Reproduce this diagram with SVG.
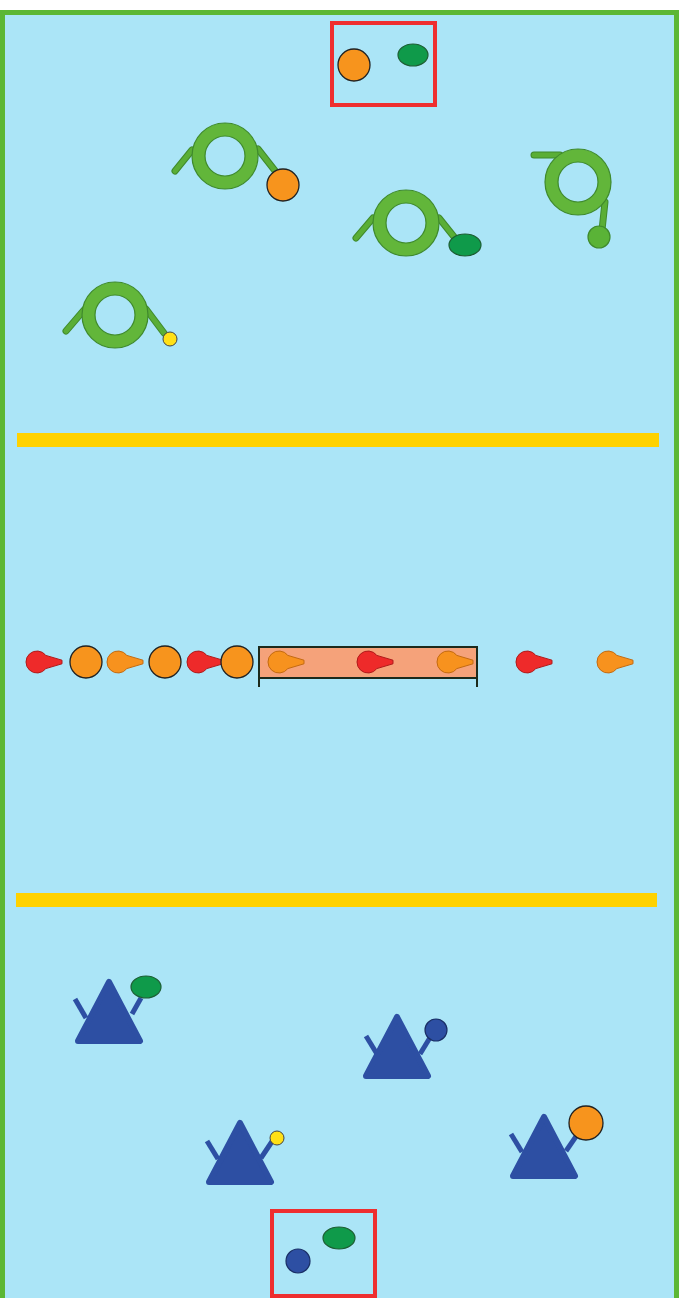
<svg xmlns="http://www.w3.org/2000/svg" xmlns:xlink="http://www.w3.org/1999/xlink" width="683" height="1298" viewBox="0 0 683 1298">
<style>
.field{fill:#abe5f7;stroke:#5cb735;stroke-width:5}
.line{fill:#ffd200}
.zone{fill:none;stroke:#ee2e2f;stroke-width:4}
.ring{fill:#62b63a;stroke:#3f8a2c;stroke-width:1.2;fill-rule:evenodd}
.gstick{stroke:#5aae36;stroke-width:5;stroke-linecap:round;fill:none}
.gstick-o{stroke:#3f8a2c;stroke-width:7;stroke-linecap:round;fill:none}
.tri{fill:#2d4fa3;stroke:#2d4fa3;stroke-width:6;stroke-linejoin:round}
.bstick{stroke:#2d4fa3;stroke-width:5;fill:none}
.orange{fill:#f7941d;stroke:#222;stroke-width:1.3}
.gball{fill:#0f9a4a;stroke:#1d5e33;stroke-width:1.2}
.gball2{fill:#5ab337;stroke:#3f8a2c;stroke-width:1.2}
.yball{fill:#ffe016;stroke:#444;stroke-width:1}
.bball{fill:#2d4fa3;stroke:#1a2f66;stroke-width:1.2}
.pinR{fill:#ee2a2a;stroke:#b01a1a;stroke-width:1}
.pinO{fill:#f7921e;stroke:#c46a10;stroke-width:1}
.box{fill:#f5a27a;stroke:#1c2a1c;stroke-width:2}
</style>
<defs>
<path id="ringShape" d="M0,-33 A33,33 0 1 1 0,33 A33,33 0 1 1 0,-33 Z M0,-20 A20,20 0 1 0 0,20 A20,20 0 1 0 0,-20 Z"/>
<path id="pinShape" d="M8.8,-6.6 L25,-1.8 L25,1.8 L8.8,6.6 A11,11 0 1 1 8.8,-6.6 Z"/>
<path id="triShape" d="M0,0 L31,59 L-31,59 Z"/>
</defs>

<rect class="field" x="2.5" y="12.5" width="674" height="1295"/>
<rect class="line" x="17" y="433" width="642" height="14"/>
<rect class="line" x="16" y="893" width="641" height="14"/>

<g id="zone-top">
<rect class="zone" x="332" y="23" width="103" height="82"/>
<circle class="orange" cx="354" cy="65" r="16"/>
<ellipse class="gball" cx="413" cy="55" rx="15" ry="11"/>
</g>

<g id="zone-bottom">
<rect class="zone" x="272" y="1211" width="103" height="85"/>
<circle class="bball" cx="298" cy="1261" r="12"/>
<ellipse class="gball" cx="339" cy="1238" rx="16" ry="11"/>
</g>

<g id="ring-1">
<line class="gstick-o" x1="192" y1="150" x2="175" y2="171"/>
<line class="gstick" x1="192" y1="150" x2="175" y2="171"/>
<line class="gstick-o" x1="258" y1="149" x2="276" y2="172"/>
<line class="gstick" x1="258" y1="149" x2="276" y2="172"/>
<use href="#ringShape" class="ring" x="225" y="156"/>
<circle class="orange" cx="283" cy="185" r="16"/>
</g>

<g id="ring-2">
<line class="gstick-o" x1="534" y1="155" x2="560" y2="155"/>
<line class="gstick" x1="534" y1="155" x2="560" y2="155"/>
<line class="gstick-o" x1="605" y1="202" x2="602" y2="230"/>
<line class="gstick" x1="605" y1="202" x2="602" y2="230"/>
<use href="#ringShape" class="ring" x="578" y="182"/>
<circle class="gball2" cx="599" cy="237" r="11"/>
</g>

<g id="ring-3">
<line class="gstick-o" x1="373" y1="218" x2="356" y2="238"/>
<line class="gstick" x1="373" y1="218" x2="356" y2="238"/>
<line class="gstick-o" x1="439" y1="218" x2="455" y2="238"/>
<line class="gstick" x1="439" y1="218" x2="455" y2="238"/>
<use href="#ringShape" class="ring" x="406" y="223"/>
<ellipse class="gball" cx="465" cy="245" rx="16" ry="11"/>
</g>

<g id="ring-4">
<line class="gstick-o" x1="84" y1="310" x2="66" y2="331"/>
<line class="gstick" x1="84" y1="310" x2="66" y2="331"/>
<line class="gstick-o" x1="146" y1="309" x2="164" y2="333"/>
<line class="gstick" x1="146" y1="309" x2="164" y2="333"/>
<use href="#ringShape" class="ring" x="115" y="315"/>
<circle class="yball" cx="170" cy="339" r="7"/>
</g>

<g id="row">
<use href="#pinShape" class="pinR" x="37" y="662"/>
<circle class="orange" cx="86" cy="662" r="16"/>
<use href="#pinShape" class="pinO" x="118" y="662"/>
<circle class="orange" cx="165" cy="662" r="16"/>
<use href="#pinShape" class="pinR" x="198" y="662"/>
<circle class="orange" cx="237" cy="662" r="16"/>
</g>

<g id="box">
<rect class="box" x="259" y="647" width="218" height="31"/>
<line x1="259" y1="678" x2="259" y2="687" stroke="#1c2a1c" stroke-width="2"/>
<line x1="477" y1="678" x2="477" y2="687" stroke="#1c2a1c" stroke-width="2"/>
<use href="#pinShape" class="pinO" x="279" y="662"/>
<use href="#pinShape" class="pinR" x="368" y="662"/>
<use href="#pinShape" class="pinO" x="448" y="662"/>
</g>

<g id="row-right">
<use href="#pinShape" class="pinR" x="527" y="662"/>
<use href="#pinShape" class="pinO" x="608" y="662"/>
</g>

<g id="tri-1">
<line class="bstick" x1="75" y1="999" x2="86" y2="1018"/>
<line class="bstick" x1="132" y1="1014" x2="141" y2="998"/>
<use href="#triShape" class="tri" x="109" y="982"/>
<ellipse class="gball" cx="146" cy="987" rx="15" ry="11"/>
</g>

<g id="tri-2">
<line class="bstick" x1="366" y1="1036" x2="377" y2="1054"/>
<line class="bstick" x1="420" y1="1054" x2="431" y2="1036"/>
<use href="#triShape" class="tri" x="397" y="1017"/>
<circle class="bball" cx="436" cy="1030" r="11"/>
</g>

<g id="tri-3">
<line class="bstick" x1="207" y1="1141" x2="218" y2="1159"/>
<line class="bstick" x1="261" y1="1158" x2="273" y2="1140"/>
<use href="#triShape" class="tri" x="240" y="1123"/>
<circle class="yball" cx="277" cy="1138" r="7"/>
</g>

<g id="tri-4">
<line class="bstick" x1="511" y1="1134" x2="522" y2="1152"/>
<line class="bstick" x1="566" y1="1151" x2="577" y2="1135"/>
<use href="#triShape" class="tri" x="544" y="1117"/>
<circle class="orange" cx="586" cy="1123" r="17"/>
</g>
</svg>
